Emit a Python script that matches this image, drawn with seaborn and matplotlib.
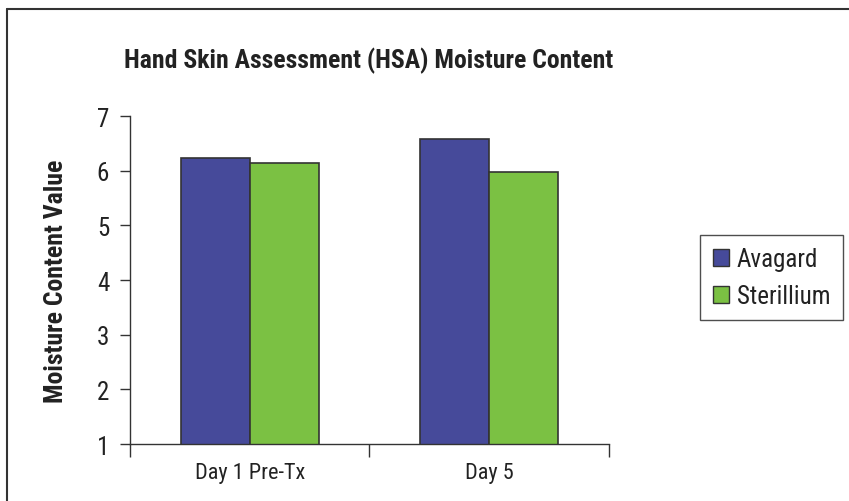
import matplotlib
matplotlib.use('Agg')
import matplotlib.pyplot as plt
from matplotlib import font_manager as fm
from matplotlib.lines import Line2D
from matplotlib.patches import Patch
import seaborn as sns
import pandas as pd

# data
days = ['Day 1 Pre-Tx', 'Day 5']
products = ['Avagard', 'Sterillium']
avagard = [6.24, 6.58]
sterillium = [6.14, 5.98]
y_ticks = [1, 2, 3, 4, 5, 6, 7]

df = pd.DataFrame({
    'day': days * 2,
    'product': [products[0]] * 2 + [products[1]] * 2,
    'value': avagard + sterillium,
})

# pick a condensed sans close to Helvetica Condensed
names = {f.name for f in fm.fontManager.ttflist}
font = 'DejaVu Sans'
for cand in ['Roboto Condensed', 'Liberation Sans Narrow', 'Archivo Narrow',
             'Barlow Condensed']:
    if cand in names:
        font = cand
        break

sns.set_style('ticks')
plt.rcParams['font.family'] = [font, 'DejaVu Sans']

fig = plt.figure(figsize=(8.49, 5.02), dpi=100)
ax = fig.add_axes([0.1531, 0.1135, 0.5642, 0.6534])

palette = {'Avagard': '#464a9a', 'Sterillium': '#7bc143'}
sns.barplot(data=df, x='day', y='value', hue='product', hue_order=products,
            palette=palette, width=0.577, edgecolor='#333333', linewidth=1.2,
            saturation=1, errorbar=None, ax=ax)

ax.set_xlim(-0.5, 1.5)
ax.set_ylim(1, 7)
ax.set_yticks(y_ticks)
ax.set_yticklabels([str(t) for t in y_ticks], fontsize=18, color='#222222')
# category boundaries as ticks, labels in the middle
ax.set_xticks([-0.5, 0.5, 1.5])
ax.set_xticklabels(['', '', ''])
ax.set_xticks([0, 1], minor=True)
ax.set_xticklabels(days, minor=True, fontsize=16, color='#222222')
ax.tick_params(axis='x', which='major', length=9, width=1, color='#333333')
ax.tick_params(axis='x', which='minor', length=0, pad=13)
ax.tick_params(axis='y', length=7, width=1, color='#333333', pad=8)
ax.set_xlabel('')
ax.set_ylabel('Moisture Content Value', fontsize=18.5, fontweight='bold',
              color='#222222', labelpad=21)

sns.despine(ax=ax)
for s in ['left', 'bottom']:
    ax.spines[s].set_color('#333333')
    ax.spines[s].set_linewidth(1)

ax.legend_.remove()
handles = [Patch(facecolor=palette[p], edgecolor='#333333', linewidth=1) for p in products]
leg = fig.legend(handles, products, loc='upper left', bbox_to_anchor=(0.825, 0.53),
                 bbox_transform=fig.transFigure, borderaxespad=0, fontsize=18,
                 fancybox=False, frameon=True, edgecolor='#222222',
                 handlelength=0.65, handleheight=0.65, handletextpad=0.3,
                 labelspacing=0.5, borderpad=0.5)
leg.get_frame().set_linewidth(1)
for t in leg.get_texts():
    t.set_color('#222222')

fig.text(0.4346, 1 - 68 / 502, 'Hand Skin Assessment (HSA) Moisture Content',
         ha='center', va='baseline', fontsize=18.5, fontweight='bold', color='#222222')

# outer frame (top and left edges visible)
fig.add_artist(Line2D([7 / 849, 1], [1 - 10 / 502, 1 - 10 / 502],
                      transform=fig.transFigure, color='#333333', lw=1.5))
fig.add_artist(Line2D([7 / 849, 7 / 849], [0, 1 - 10 / 502],
                      transform=fig.transFigure, color='#333333', lw=1.5))

fig.savefig('out.png', dpi=100)
